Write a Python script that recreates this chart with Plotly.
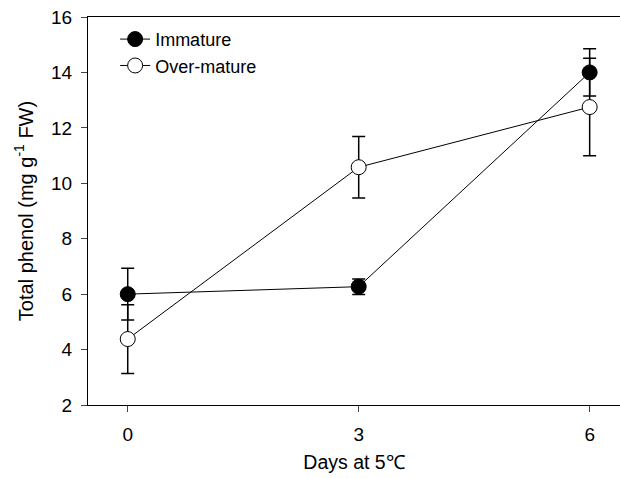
import plotly.graph_objects as go

days = [0, 3, 6]
immature = [6.0, 6.27, 14.0]
immature_err = [0.93, 0.28, 0.85]
over_mature = [4.38, 10.58, 12.75]
over_mature_err = [1.24, 1.11, 1.76]
x_ticks = [0, 3, 6]
y_ticks = [2, 4, 6, 8, 10, 12, 14, 16]

FONT = "Liberation Sans, Arial, sans-serif"

fig = go.Figure()
fig.add_trace(go.Scatter(
    x=days, y=immature, name="Immature", mode="lines+markers",
    line=dict(color="black", width=1),
    marker=dict(symbol="circle", size=15, color="black", line=dict(color="black", width=1)),
    error_y=dict(type="data", array=immature_err, visible=True, color="black", thickness=1.5, width=6.5),
))
fig.add_trace(go.Scatter(
    x=days, y=over_mature, name="Over-mature", mode="lines+markers",
    line=dict(color="black", width=1),
    marker=dict(symbol="circle", size=15, color="white", line=dict(color="black", width=1)),
    error_y=dict(type="data", array=over_mature_err, visible=True, color="black", thickness=1.5, width=6.5),
))

fig.update_layout(
    width=620, height=478,
    margin=dict(l=88, r=0, t=17, b=73),
    paper_bgcolor="white", plot_bgcolor="white",
    font=dict(family=FONT, size=18, color="black"),
    showlegend=True,
    legend=dict(x=0.051, y=0.99, xanchor="left", yanchor="top",
                bgcolor="rgba(0,0,0,0)", font=dict(size=18), tracegroupgap=0),
    xaxis=dict(
        range=[-0.516, 6.394], tickvals=x_ticks, ticks="outside", ticklen=6,
        showline=True, linecolor="black", linewidth=1, mirror=True,
        showgrid=False, zeroline=False, tickfont=dict(size=19), automargin=False,
        ticklabelstandoff=6,
        title=dict(text="Days at 5℃", font=dict(size=19.5), standoff=11),
    ),
    yaxis=dict(
        range=[2, 16], tickvals=y_ticks, ticks="outside", ticklen=6,
        showline=True, linecolor="black", linewidth=1,
        showgrid=False, zeroline=False, tickfont=dict(size=19), automargin=False,
        ticklabelstandoff=5,
        title=dict(text="Total phenol (mg g<sup>-1</sup> FW)", font=dict(size=20), standoff=12),
    ),
)

fig.write_html("out.html", config={"displayModeBar": False},
               post_script="document.body.style.margin='0';")
